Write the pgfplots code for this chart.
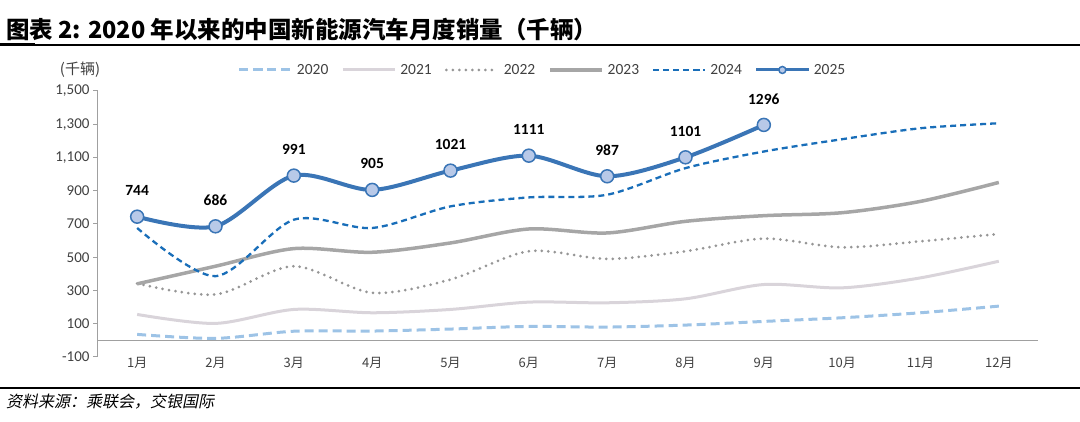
\documentclass[border=0pt]{standalone}
\usepackage{pgfplots}
\pgfplotsset{compat=1.18}
\usepackage{fontspec}
\setmainfont{Carlito}
\newfontfamily\cjk{Noto Sans CJK SC}
\newfontfamily\cjksl[FakeSlant=0.2]{Noto Sans CJK SC}
\definecolor{c20}{RGB}{157,195,230}
\definecolor{c21}{RGB}{217,212,218}
\definecolor{c22}{RGB}{150,150,150}
\definecolor{c23}{RGB}{166,166,166}
\definecolor{c24}{RGB}{25,110,185}
\definecolor{c25}{RGB}{58,117,182}
\definecolor{c25f}{RGB}{184,201,232}
\definecolor{axg}{RGB}{160,160,160}
\definecolor{txt}{RGB}{64,64,64}
\begin{document}
\begin{tikzpicture}
\path[use as bounding box] (0pt,0pt) rectangle (1080pt,422pt);
\node[anchor=west, inner sep=0, font=\cjk\bfseries\fontsize{23.5}{27}\selectfont] at (6pt,392pt) {图表 2: 2020 年以来的中国新能源汽车月度销量（千辆）};
\draw[line width=1.5pt] (0pt,377pt) -- (1080pt,377pt);
\draw[line width=3pt] (0pt,377.5pt) -- (35pt,377.5pt);
\node[anchor=center, inner sep=0, text=txt, font=\cjk\fontsize{15}{17}\selectfont] at (80pt,352pt) {(千辆)};
\begin{axis}[
  at={(98pt,65pt)}, anchor=south west, scale only axis,
  width=940pt, height=266pt,
  xmin=-0.5, xmax=11.5, ymin=-100, ymax=1500,
  axis x line*=middle, axis y line*=left,
  axis line style={axg, line width=1pt},
  xtick={0,...,11},
  xticklabels={1月,2月,3月,4月,5月,6月,7月,8月,9月,10月,11月,12月},
  xticklabel style={font=\cjk\fontsize{13}{15}\selectfont, text=txt, yshift=-8pt},
  x tick style={draw=none},
  extra x ticks={-0.5,0.5,...,11.5},
  extra x tick labels={},
  extra x tick style={major tick length=5pt, tick align=outside, tick style={draw=axg, line width=1pt}},
  ytick={-100,100,...,1500},
  yticklabels={-100,100,300,500,700,900,{1,100},{1,300},{1,500}},
  yticklabel style={font=\fontsize{15}{17}\selectfont, text=txt},
  y tick style={draw=axg, line width=1pt},
  tick align=outside, major tick length=5pt,
  clip=false,
  legend style={at={(0.473,1.079)}, anchor=center, draw=none, fill=none,
    font=\fontsize{15.5}{17}\selectfont, text=txt,
    legend columns=-1,
    /tikz/every odd column/.append style={column sep=2pt},
    /tikz/every even column/.append style={column sep=11pt}},
  legend image code/.code={\draw[mark repeat=2, mark phase=2, #1] plot coordinates {(0pt,0pt) (26pt,0pt) (52pt,0pt)};},
]
\addplot[c20, line width=3pt, dash pattern=on 9pt off 5pt, smooth] coordinates {
 (0,36) (1,12) (2,55) (3,56) (4,68) (5,84) (6,80) (7,92) (8,114) (9,136) (10,166) (11,206)};
\addlegendentry{2020}
\addplot[c21, line width=3pt, smooth] coordinates {
 (0,156) (1,102) (2,186) (3,166) (4,186) (5,230) (6,226) (7,250) (8,336) (9,316) (10,376) (11,476)};
\addlegendentry{2021}
\addplot[c22, line width=3pt, line cap=round, dash pattern=on 0pt off 6.5pt, smooth] coordinates {
 (0,342) (1,276) (2,446) (3,286) (4,366) (5,536) (6,490) (7,536) (8,612) (9,560) (10,596) (11,640)};
\addlegendentry{2022}
\addplot[c23, line width=3.5pt, smooth] coordinates {
 (0,340) (1,446) (2,552) (3,530) (4,586) (5,670) (6,646) (7,716) (8,750) (9,768) (10,836) (11,950)};
\addlegendentry{2023}
\addplot[c24, line width=2.3pt, dash pattern=on 6pt off 4pt, smooth] coordinates {
 (0,676) (1,386) (2,726) (3,676) (4,806) (5,860) (6,876) (7,1036) (8,1136) (9,1210) (10,1276) (11,1306)};
\addlegendentry{2024}
\addplot[c25, line width=4pt, smooth, mark=*, mark size=6.5pt,
  mark options={fill=c25f, draw=c25, line width=1.5pt},
  legend image post style={mark size=3.5pt, line width=3pt}] coordinates {
 (0,744) (1,686) (2,991) (3,905) (4,1021) (5,1111) (6,987) (7,1101) (8,1296)};
\addlegendentry{2025}
\addplot[draw=none, forget plot, point meta=explicit symbolic,
  nodes near coords, every node near coord/.append style={anchor=center, inner sep=0, yshift=26pt, font=\bfseries\fontsize{15.5}{17}\selectfont, text=black}] coordinates {
 (0,744)[744] (1,686)[686] (2,991)[991] (3,905)[905] (4,1021)[1021] (5,1111)[1111] (6,987)[987] (7,1101)[1101] (8,1296)[1296]};
\end{axis}
\draw[line width=1.5pt] (0pt,34pt) -- (1080pt,34pt);
\node[anchor=west, inner sep=0, font=\cjksl\fontsize{16}{18}\selectfont] at (6pt,20pt) {资料来源：乘联会，交银国际};
\end{tikzpicture}
\end{document}
